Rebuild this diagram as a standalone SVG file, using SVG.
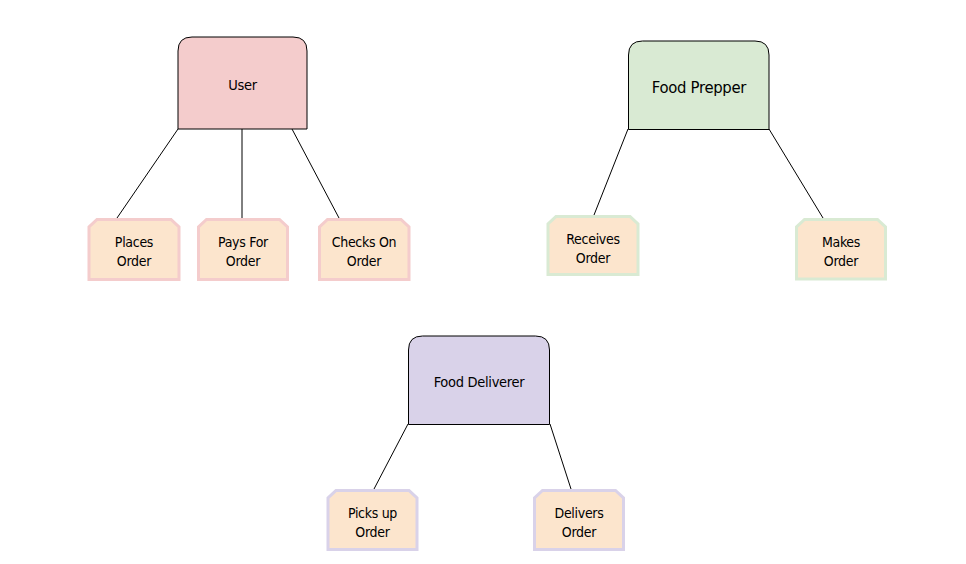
<svg xmlns="http://www.w3.org/2000/svg" width="966" height="564" viewBox="0 0 966 564">
<style>
.bg{fill:#ffffff}
.conn line{stroke:#000000;stroke-width:1}
.role{stroke:#000000;stroke-width:1}
.task{fill:#fce5cd;stroke-width:3}
text{font-family:"DejaVu Sans Condensed","DejaVu Sans","Liberation Sans",sans-serif;fill:#000000;text-anchor:middle;letter-spacing:-0.3px}
.t1{font-size:14.5px}
.t2{font-size:14px}
</style>
<rect class="bg" x="0" y="0" width="966" height="564"/>
<g id="connectors" class="conn">
<line x1="178" y1="129" x2="117" y2="218"/>
<line x1="242" y1="129" x2="242" y2="218"/>
<line x1="292" y1="129" x2="339" y2="218"/>
<line x1="628" y1="129" x2="594" y2="215"/>
<line x1="769" y1="129" x2="823" y2="218"/>
<line x1="408" y1="424" x2="374" y2="489"/>
<line x1="550" y1="424" x2="571" y2="489"/>
</g>
<g id="user">
<path class="role" fill="#f4cccc" d="M178,129 V51 Q178,37 192,37 H293 Q307,37 307,51 V129 Z"/>
<text class="t1" x="242.5" y="90">User</text>
</g>
<g id="places-order">
<path class="task" stroke="#f4cccc" d="M89,279.5 V227 L97,219.5 H171 L179,227 V279.5 Z"/>
<text class="t2" x="134" y="247">Places</text>
<text class="t2" x="134" y="266">Order</text>
</g>
<g id="pays-for-order">
<path class="task" stroke="#f4cccc" d="M198.5,279.5 V227 L206.5,219.5 H279.5 L287.5,227 V279.5 Z"/>
<text class="t2" x="243" y="247">Pays For</text>
<text class="t2" x="243" y="266">Order</text>
</g>
<g id="checks-on-order">
<path class="task" stroke="#f4cccc" d="M319.5,279.5 V227 L327.5,219.5 H401 L409,227 V279.5 Z"/>
<text class="t2" x="364" y="247">Checks On</text>
<text class="t2" x="364" y="266">Order</text>
</g>
<g id="food-prepper">
<path class="role" fill="#d9ead3" d="M628.5,129.5 V55 Q628.5,41 642.5,41 H755 Q769,41 769,55 V129.5 Z"/>
<text class="t1" x="699" y="93" style="font-size:16.5px">Food Prepper</text>
</g>
<g id="receives-order">
<path class="task" stroke="#d9ead3" d="M548,274.5 V224 L556,216.5 H630 L638,224 V274.5 Z"/>
<text class="t2" x="593" y="244">Receives</text>
<text class="t2" x="593" y="263">Order</text>
</g>
<g id="makes-order">
<path class="task" stroke="#d9ead3" d="M796.5,279 V227 L804.5,219.5 H877.5 L885.5,227 V279 Z"/>
<text class="t2" x="841" y="247">Makes</text>
<text class="t2" x="841" y="266">Order</text>
</g>
<g id="food-deliverer">
<path class="role" fill="#d9d2e9" d="M408.5,424.5 V350 Q408.5,336 422.5,336 H535.5 Q549.5,336 549.5,350 V424.5 Z"/>
<text class="t1" x="479" y="387">Food Deliverer</text>
</g>
<g id="picks-up-order">
<path class="task" stroke="#d9d2e9" d="M328,549.5 V498 L336,490.5 H409 L417,498 V549.5 Z"/>
<text class="t2" x="372.5" y="518">Picks up</text>
<text class="t2" x="372.5" y="537">Order</text>
</g>
<g id="delivers-order">
<path class="task" stroke="#d9d2e9" d="M534.5,549.5 V498 L542.5,490.5 H615.5 L623.5,498 V549.5 Z"/>
<text class="t2" x="579" y="518">Delivers</text>
<text class="t2" x="579" y="537">Order</text>
</g>
</svg>
